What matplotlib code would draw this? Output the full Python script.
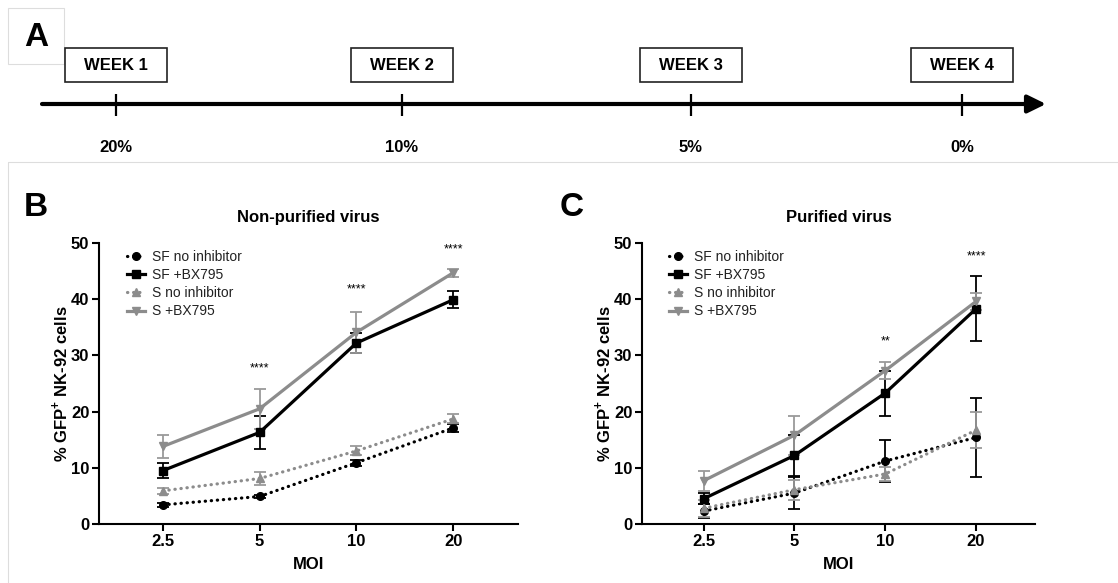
import numpy as np
import matplotlib
matplotlib.use("Agg")
from matplotlib import pyplot as plt
from matplotlib.patches import Rectangle
from matplotlib.lines import Line2D

plt.rcParams['font.family'] = ['Liberation Sans', 'DejaVu Sans']
plt.rcParams['mathtext.fontset'] = 'custom'
plt.rcParams['mathtext.rm'] = 'Liberation Sans:bold'
plt.rcParams['mathtext.bf'] = 'Liberation Sans:bold'

# ---- data ----
weeks = ["WEEK 1", "WEEK 2", "WEEK 3", "WEEK 4"]
serum = ["20%", "10%", "5%", "0%"]

moi = ["2.5", "5", "10", "20"]
series = ["SF no inhibitor", "SF +BX795", "S no inhibitor", "S +BX795"]

# non-purified virus (panel B)
b_sf_no = [3.4, 4.9, 10.9, 17.1]
b_sf_no_err = [0.3, 0.3, 0.5, 0.7]
b_sf_bx = [9.5, 16.3, 32.2, 39.9]
b_sf_bx_err = [1.4, 3.0, 1.8, 1.5]
b_s_no = [5.9, 8.1, 13.0, 18.7]
b_s_no_err = [0.5, 1.2, 0.8, 0.8]
b_s_bx = [13.8, 20.5, 34.1, 44.7]
b_s_bx_err = [2.1, 3.6, 3.6, 0.7]
b_stars = ["", "****", "****", "****"]
b_star_y = [0, 27.6, 41.8, 48.8]

# purified virus (panel C)
c_sf_no = [2.3, 5.5, 11.2, 15.4]
c_sf_no_err = [1.3, 2.8, 3.7, 7.1]
c_sf_bx = [4.5, 12.2, 23.3, 38.3]
c_sf_bx_err = [1.0, 3.6, 4.0, 5.8]
c_s_no = [2.8, 6.1, 8.9, 16.7]
c_s_no_err = [1.5, 1.8, 1.3, 3.2]
c_s_bx = [7.7, 15.8, 27.3, 39.6]
c_s_bx_err = [1.8, 3.5, 1.5, 1.5]
c_stars = ["", "", "**", "****"]
c_star_y = [0, 0, 32.5, 47.6]

W, H = 1118, 583
fig = plt.figure(figsize=(W / 100, H / 100), dpi=100)

# ---- panel A : timeline drawn on a pixel-coordinate overlay ----
ax0 = fig.add_axes([0, 0, 1, 1])
ax0.set_xlim(0, W)
ax0.set_ylim(H, 0)
ax0.axis('off')

week_pos = [116, 402, 691, 962]
ax0.add_patch(Rectangle((8, 8), 56, 56, fill=False, ec='#dddddd', lw=0.8))
ax0.text(36, 38, "A", fontsize=24, fontweight='bold', ha='center', va='center')
ax0.add_patch(Rectangle((8, 162), 1200, 500, fill=False, ec='#dddddd', lw=0.8))

ax0.annotate('', xy=(1046, 104), xytext=(42, 104),
             arrowprops=dict(arrowstyle='-|>,head_length=0.55,head_width=0.27',
                             lw=3, color='black', mutation_scale=20,
                             shrinkA=0, shrinkB=0))
ax0.vlines(week_pos, 94, 116, color='black', lw=1.6)
for xp, wk, pc in zip(week_pos, weeks, serum):
    ax0.add_patch(Rectangle((xp - 51, 48), 102, 34, fill=False, ec='#222222', lw=1.2))
    ax0.text(xp, 65.5, wk, fontsize=12, fontweight='bold', ha='center', va='center')
    ax0.text(xp, 147, pc, fontsize=12, fontweight='bold', ha='center', va='center')

dots = (0, (0.1, 1.8))
styles = [
    dict(color='black', marker='o', ls=dots, ecolor='black'),
    dict(color='black', marker='s', ls='-', ecolor='black'),
    dict(color='#8c8c8c', marker='^', ls=dots, ecolor='#9a9a9a'),
    dict(color='#8c8c8c', marker='v', ls='-', ecolor='#9a9a9a'),
]


def panel(rect, xl, title, letter, lx, data, stars, star_y):
    ax = fig.add_axes(rect)
    ax.set_facecolor('none')
    x = np.arange(len(moi))
    handles = []
    for (y, e), st, name in zip(data, styles, series):
        ax.errorbar(x, y, yerr=e, color=st['color'], ecolor=st['ecolor'],
                    marker=st['marker'], markersize=5.5, ls=st['ls'],
                    lw=2.3, elinewidth=1.3, capsize=4.5, capthick=1.3,
                    dash_capstyle='round', clip_on=False)
        handles.append(Line2D([], [], color=st['color'], marker=st['marker'],
                              markersize=5.5, ls=st['ls'], lw=2.3,
                              dash_capstyle='round', label=name))
    for xi, s, sy in zip(x, stars, star_y):
        if s:
            ax.text(xi, sy, s, fontsize=9, ha='center', va='center')

    ax.set_xlim(*xl)
    ax.set_ylim(0, 50)
    ax.set_yticks([0, 10, 20, 30, 40, 50])
    ax.set_xticks(x)
    ax.set_xticklabels(moi)
    for sp in ['top', 'right']:
        ax.spines[sp].set_visible(False)
    for sp in ['left', 'bottom']:
        ax.spines[sp].set_linewidth(1.5)
    ax.tick_params(width=1.5, length=5, labelsize=12, pad=2)
    for lab in ax.get_xticklabels() + ax.get_yticklabels():
        lab.set_fontweight('bold')
    ax.set_xlabel("MOI", fontsize=12, fontweight='bold', labelpad=6)
    ax.set_ylabel(r"% GFP$^{+}$ NK-92 cells", fontsize=12, fontweight='bold', labelpad=1)
    ax.set_title(title, fontsize=12, fontweight='bold', pad=15)
    fig.text(lx / W, 1 - 207 / H, letter, fontsize=24, fontweight='bold',
             ha='center', va='center')

    leg = ax.legend(handles=handles, loc='upper left', bbox_to_anchor=(0.05, 1.0),
                    frameon=False, fontsize=10, handlelength=1.3, handletextpad=0.5,
                    labelspacing=0.3, borderpad=0, numpoints=1)
    for t in leg.get_texts():
        t.set_color('#222222')
    return ax


panel([99 / W, 59 / H, 419 / W, 281 / H], (-0.66, 3.67), "Non-purified virus", "B", 36,
      [(b_sf_no, b_sf_no_err), (b_sf_bx, b_sf_bx_err),
       (b_s_no, b_s_no_err), (b_s_bx, b_s_bx_err)], b_stars, b_star_y)
panel([642 / W, 59 / H, 393 / W, 281 / H], (-0.68, 3.65), "Purified virus", "C", 572,
      [(c_sf_no, c_sf_no_err), (c_sf_bx, c_sf_bx_err),
       (c_s_no, c_s_no_err), (c_s_bx, c_s_bx_err)], c_stars, c_star_y)

fig.savefig("out.png", dpi=100)
